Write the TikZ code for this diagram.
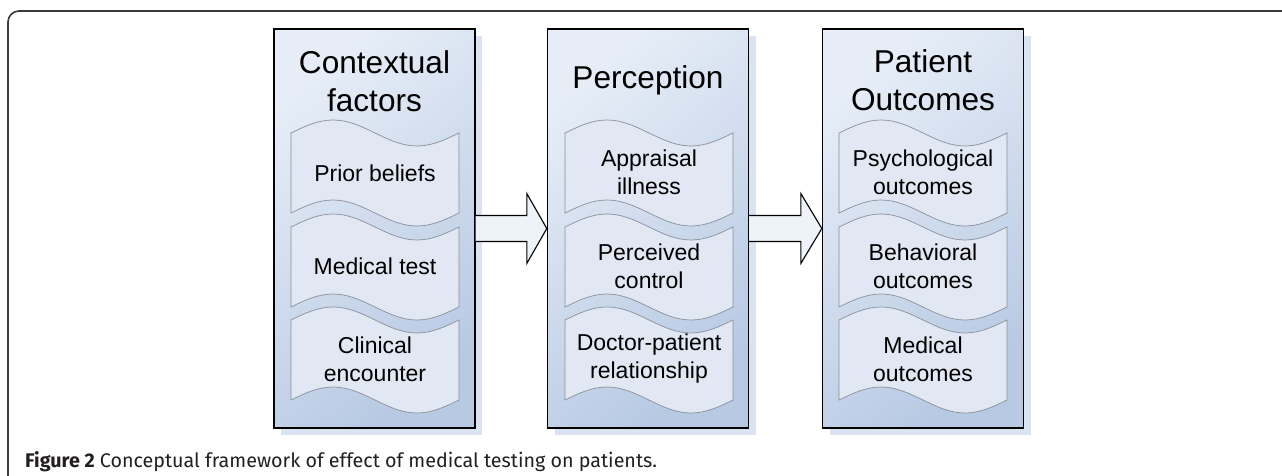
\documentclass[tikz,border=0pt]{standalone}
\usepackage{fontspec}
\setmainfont{Liberation Sans}
\newfontfamily\capfont{Fira Sans}
\usetikzlibrary{calc}
\definecolor{boxlight}{HTML}{E6EDF7}
\definecolor{boxmid}{HTML}{C6D5EA}
\definecolor{boxdark}{HTML}{B7C9E3}
\definecolor{shadowc}{HTML}{DAE4F1}
\definecolor{paperc}{HTML}{E1E8F3}
\definecolor{paperline}{HTML}{8A8F98}
\definecolor{arrowc}{HTML}{EEF2F9}
\definecolor{framec}{HTML}{3A3A3A}
\definecolor{captc}{HTML}{231F20}
\tikzset{
  colbox/.style={rectangle, draw=black, line width=1.4pt, minimum width=201pt, minimum height=399pt,
    top color=boxlight, middle color=boxmid, bottom color=boxdark, shading angle=40, inner sep=0pt},
  shadowbox/.style={rectangle, fill=shadowc, minimum width=201pt, minimum height=399pt, inner sep=0pt},
  paper/.style={fill=paperc, draw=paperline, line width=0.7pt},
  bigarrow/.style={fill=arrowc, draw=black, line width=1.1pt, line join=miter},
  titletext/.style={align=center, font=\fontsize{31.6}{38}\selectfont, inner sep=0pt},
  itemtext/.style={align=center, font=\fontsize{23}{28}\selectfont, inner sep=0pt},
}
\newcommand\paperitem[4]{%
 \filldraw[paper] (#1,#3) sin ({#1+0.25*(#2-#1)},#3-13) cos ({#1+0.5*(#2-#1)},#3)
   sin ({#1+0.75*(#2-#1)},#3+13) cos (#2,#3) -- (#2,#4)
   sin ({#1+0.75*(#2-#1)},#4+13) cos ({#1+0.5*(#2-#1)},#4)
   sin ({#1+0.25*(#2-#1)},#4-13) cos (#1,#4) -- cycle;}
\begin{document}
\begin{tikzpicture}[x=1pt,y=-1pt]
\useasboundingbox (0,0) rectangle (1282,476);
\clip (0,0) rectangle (1282,476);
\fill[white] (0,0) rectangle (1282,476);
% outer frame
\draw[framec, line width=1.6pt, rounded corners=11pt] (8,490) -- (8,11) -- (1295,11);
% shadows
\node[shadowbox] (s1) at (381.5,235.5) {};
\node[shadowbox] (s2) at (655,235.5) {};
\node[shadowbox] (s3) at (930,235.5) {};
% boxes
\node[colbox] (b1) at (374.5,228.5) {};
\node[colbox] (b2) at (648,228.5) {};
\node[colbox] (b3) at (923,228.5) {};
% arrows
\draw[bigarrow] ($(b1.east)+(0,-13)$) -- ($(b2.west)+(-20,-13)$) -- ++(0,-22) -- (b2.west)
  -- ($(b2.west)+(-20,35)$) -- ++(0,-22) -- ($(b1.east)+(0,13)$);
\draw[bigarrow] ($(b2.east)+(0,-13)$) -- ($(b3.west)+(-21,-13)$) -- ++(0,-22) -- (b3.west)
  -- ($(b3.west)+(-21,35)$) -- ++(0,-22) -- ($(b2.east)+(0,13)$);
% papers
\paperitem{291}{459}{133}{213}
\paperitem{291}{459}{227}{307}
\paperitem{291}{459}{320}{400}
\paperitem{565}{733}{133}{213}
\paperitem{565}{733}{227}{307}
\paperitem{565}{733}{320}{400}
\paperitem{839}{1007}{133}{213}
\paperitem{839}{1007}{227}{307}
\paperitem{839}{1007}{320}{400}
% titles
\node[titletext] (t1) at (374.5,81) {Contextual\\factors};
\node[titletext] (t2) at (648,80) {Perception};
\node[titletext] (t3) at (923,80) {Patient\\Outcomes};
% items
\node[itemtext] (i11) at (375,173) {Prior beliefs};
\node[itemtext] (i12) at (375,266) {Medical test};
\node[itemtext] (i13) at (375,359) {Clinical\\encounter};
\node[itemtext] (i21) at (649,172) {Appraisal\\illness};
\node[itemtext] (i22) at (649,266) {Perceived\\control};
\node[itemtext] (i23) at (649,359) {Doctor-patient\\relationship};
\node[itemtext] (i31) at (923,172) {Psychological\\outcomes};
\node[itemtext] (i32) at (923,266) {Behavioral\\outcomes};
\node[itemtext] (i33) at (923,359) {Medical\\outcomes};
% caption
\node[anchor=base west, inner sep=0pt, text=captc, font=\capfont\fontsize{19.7}{22}\selectfont] (cap) at (25,467)
  {\textbf{Figure 2} Conceptual framework of effect of medical testing on patients.};
\end{tikzpicture}
\end{document}
